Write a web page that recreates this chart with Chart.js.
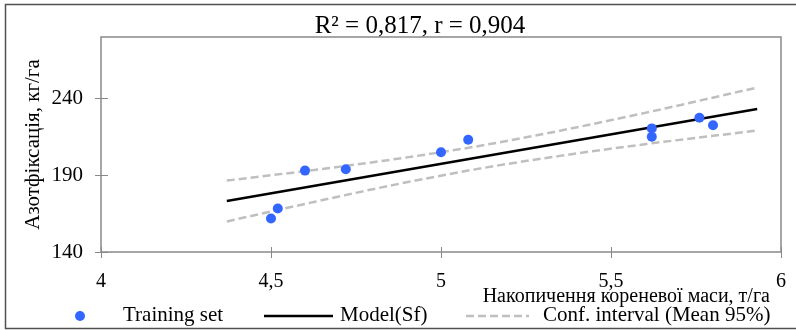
<!DOCTYPE html>
<html>
<head>
<meta charset="utf-8">
<script src="https://cdn.jsdelivr.net/npm/chart.js@4.4.0/dist/chart.umd.min.js"></script>
<style>
  html, body { margin: 0; padding: 0; background: #fff; }
  #wrap { position: relative; width: 796px; height: 330px; }
</style>
</head>
<body>
<div id="wrap"><canvas id="RegChart"></canvas></div>
<script>
// values
var trainX = [4.50, 4.52, 4.60, 4.72, 5.00, 5.08, 5.62, 5.62, 5.76, 5.80];
var trainY = [161.8, 168.3, 193.0, 193.9, 204.9, 213.1, 220.5, 215.1, 227.4, 222.5];
var modelX = [4.37, 5.93];
var modelY = [173.2, 233.1];
var ciX = [4.37, 4.60, 4.85, 5.10, 5.35, 5.60, 5.93];
var ciUpper = [186.5, 192.7, 200.0, 208.6, 219.0, 230.6, 247.1];
var ciLower = [159.9, 171.3, 183.2, 193.8, 202.6, 210.2, 219.1];
var xTicks = [4, 4.5, 5, 5.5, 6];
var xTickLabels = ["4", "4,5", "5", "5,5", "6"];
var yTicks = [140, 190, 240];
var seriesNames = ["Training set", "Model(Sf)", "Conf. interval (Mean 95%)"];
var titleText = "R\u00B2 = 0,817, r = 0,904";
var xTitle = "Накопичення кореневої маси, т/га";
var yTitle = "Азотфіксація, кг/га";

var SERIF = '"Liberation Serif", "Times New Roman", serif';
var AXIS = "#898989";

function pairs(xs, ys) {
    var out = [];
    for (var i = 0; i < xs.length; i++) out.push({ x: xs[i], y: ys[i] });
    return out;
}

var decor = {
    id: "decor",
    beforeDraw: function(chart) {
        var ctx = chart.ctx;
        ctx.save();
        ctx.fillStyle = "#fff";
        ctx.fillRect(0, 0, chart.width, chart.height);
        // outer frame: left, top, bottom only
        ctx.strokeStyle = "#505050";
        ctx.lineWidth = 1.5;
        ctx.beginPath();
        ctx.moveTo(chart.width, 4.5);
        ctx.lineTo(5.5, 4.5);
        ctx.lineTo(5.5, 328.5);
        ctx.lineTo(chart.width, 328.5);
        ctx.stroke();
        ctx.restore();
    },
    afterDraw: function(chart) {
        var ctx = chart.ctx;
        var a = chart.chartArea;
        var xs = chart.scales.x, ys = chart.scales.y;
        ctx.save();
        // plot frame
        ctx.strokeStyle = AXIS;
        ctx.lineWidth = 1.5;
        ctx.strokeRect(a.left, a.top, a.right - a.left, a.bottom - a.top);
        // inner half of the tick marks
        ctx.lineWidth = 1;
        ctx.beginPath();
        xTicks.forEach(function(v) {
            var px = Math.round(xs.getPixelForValue(v)) + 0.5;
            ctx.moveTo(px, a.bottom);
            ctx.lineTo(px, a.bottom - 5);
        });
        yTicks.forEach(function(v) {
            var py = Math.round(ys.getPixelForValue(v)) + 0.5;
            ctx.moveTo(a.left, py);
            ctx.lineTo(a.left + 7, py);
        });
        ctx.stroke();

        // title
        ctx.fillStyle = "#000";
        ctx.font = "25px " + SERIF;
        ctx.textAlign = "center";
        ctx.textBaseline = "alphabetic";
        ctx.fillText(titleText, a.left + 319, 33);

        // x axis title, right side
        ctx.font = "20px " + SERIF;
        ctx.textAlign = "right";
        ctx.fillText(xTitle, a.right - 11, 301.5);

        // legend
        var ds = chart.data.datasets;
        var ly = 316;
        ctx.font = "21px " + SERIF;
        ctx.textAlign = "left";
        ctx.fillStyle = ds[0].backgroundColor;
        ctx.beginPath();
        ctx.arc(80, ly, 5, 0, Math.PI * 2);
        ctx.fill();
        ctx.fillStyle = "#000";
        ctx.fillText(ds[0].label, 123, 321);

        ctx.strokeStyle = ds[1].borderColor;
        ctx.lineWidth = ds[1].borderWidth;
        ctx.beginPath();
        ctx.moveTo(264, ly);
        ctx.lineTo(333, ly);
        ctx.stroke();
        ctx.fillText(ds[1].label, 340, 321);

        ctx.strokeStyle = ds[2].borderColor;
        ctx.lineWidth = ds[2].borderWidth;
        ctx.setLineDash(ds[2].borderDash);
        ctx.beginPath();
        ctx.moveTo(466, ly);
        ctx.lineTo(529, ly);
        ctx.stroke();
        ctx.setLineDash([]);
        ctx.fillText(ds[2].label, 543, 321);
        ctx.restore();
    }
};

var data = {
    datasets: [
        {
            type: "scatter",
            label: seriesNames[0],
            data: pairs(trainX, trainY),
            backgroundColor: "#3366ff",
            borderWidth: 0,
            pointRadius: 5,
            pointHoverRadius: 5
        },
        {
            type: "line",
            label: seriesNames[1],
            data: pairs(modelX, modelY),
            borderColor: "#000000",
            borderWidth: 2.5,
            pointRadius: 0,
            fill: false
        },
        {
            type: "line",
            label: seriesNames[2],
            data: pairs(ciX, ciUpper),
            borderColor: "#bfbfbf",
            borderWidth: 2.5,
            borderDash: [8, 4],
            pointRadius: 0,
            cubicInterpolationMode: "monotone",
            fill: false
        },
        {
            type: "line",
            label: seriesNames[2],
            data: pairs(ciX, ciLower),
            borderColor: "#bfbfbf",
            borderWidth: 2.5,
            borderDash: [8, 4],
            pointRadius: 0,
            cubicInterpolationMode: "monotone",
            fill: false
        }
    ]
};

var chart = new Chart(document.getElementById("RegChart"), {
    type: "scatter",
    data: data,
    plugins: [decor],
    options: {
        responsive: true,
        maintainAspectRatio: false,
        animation: false,
        layout: { padding: { top: 37, right: 15, bottom: 38, left: 0 } },
        plugins: {
            legend: { display: false },
            title: { display: false },
            tooltip: { enabled: false }
        },
        scales: {
            x: {
                type: "linear",
                min: 4,
                max: 6,
                afterBuildTicks: function(scale) {
                    scale.ticks = xTicks.map(function(v) { return { value: v }; });
                },
                afterFit: function(scale) {
                    scale.height = 40;
                    scale.paddingLeft = 0;
                    scale.paddingRight = 0;
                },
                grid: { drawOnChartArea: false, drawTicks: true, tickLength: 6, color: AXIS, tickColor: AXIS },
                border: { display: false },
                ticks: {
                    padding: 12,
                    color: "#000",
                    font: { family: SERIF, size: 20 },
                    maxRotation: 0,
                    callback: function(v) { return xTickLabels[xTicks.indexOf(v)]; }
                }
            },
            y: {
                type: "linear",
                min: 140,
                max: 280,
                afterBuildTicks: function(scale) {
                    scale.ticks = yTicks.map(function(v) { return { value: v }; });
                },
                afterFit: function(scale) {
                    scale.width = 101;
                    scale.paddingTop = 0;
                    scale.paddingBottom = 0;
                },
                grid: { drawOnChartArea: false, drawTicks: true, tickLength: 6, color: AXIS, tickColor: AXIS },
                border: { display: false },
                title: {
                    display: true,
                    text: yTitle,
                    color: "#000",
                    font: { family: SERIF, size: 21 },
                    padding: { top: 21, bottom: 0 }
                },
                ticks: {
                    padding: 12,
                    color: "#000",
                    font: { family: SERIF, size: 21 }
                }
            }
        }
    }
});
</script>
</body>
</html>
